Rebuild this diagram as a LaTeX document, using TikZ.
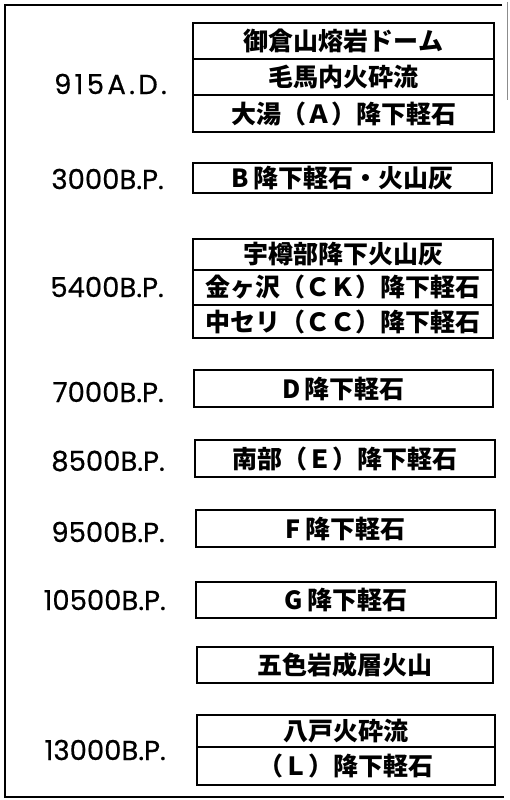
\documentclass[tikz,border=0pt]{standalone}
\usepackage{fontspec}
\newfontfamily\cjk{Noto Sans CJK JP}
\newfontfamily\lab{Poppins}[FakeBold=0.6]
\begin{document}
\begin{tikzpicture}[x=1pt,y=-1pt,
  row/.style={draw, line width=1.5pt, inner sep=0pt, font=\cjk\bfseries\fontsize{25}{25}\selectfont},
  age/.style={anchor=east, inner sep=0pt, font=\lab\fontsize{27.5}{27.5}\selectfont}]
\useasboundingbox (0,0) rectangle (509,800);
% outer frame
\draw[line width=1.2pt] (502,5) -- (5,5) -- (5,797) -- (504,797);
\draw[line width=0.6pt, black!45] (507,2) -- (507,100);
% group 915 A.D.
\node[row, minimum width=301pt, minimum height=36pt] (a1) at (343.5,41) {御倉山熔岩ドーム};
\node[row, minimum width=301pt, minimum height=36pt] (a2) at (343.5,77) {毛馬内火砕流};
\node[row, minimum width=301pt, minimum height=37pt] (a3) at (343.5,113.5) {大湯（Ａ）降下軽石};
\node[age] (t1) at (167,84) {\addfontfeature{LetterSpace=12}915A.D.};
% 3000 B.P.
\node[row, minimum width=299pt, minimum height=30pt] (b1) at (342.5,178) {B\,降下軽石・火山灰};
\node[age] (t2) at (164,179) {3000B.P.};
% 5400 B.P.
\node[row, minimum width=300pt, minimum height=31pt] (c1) at (343,254.5) {宇樽部降下火山灰};
\node[row, minimum width=300pt, minimum height=35pt] (c2) at (343,287.5) {金ヶ沢（ＣＫ）降下軽石};
\node[row, minimum width=300pt, minimum height=33pt] (c3) at (343,321.5) {中セリ（ＣＣ）降下軽石};
\node[age] (t3) at (164,287) {5400B.P.};
% 7000 B.P.
\node[row, minimum width=299pt, minimum height=37pt] (d1) at (343.5,388.5) {D\,降下軽石};
\node[age] (t4) at (164,392) {7000B.P.};
% 8500 B.P.
\node[row, minimum width=300pt, minimum height=37pt] (e1) at (345,458.5) {南部（Ｅ）降下軽石};
\node[age] (t5) at (165,461) {8500B.P.};
% 9500 B.P.
\node[row, minimum width=299pt, minimum height=37pt] (f1) at (345.5,528.5) {F\,降下軽石};
\node[age] (t6) at (165,532) {9500B.P.};
% 10500 B.P.
\node[row, minimum width=300pt, minimum height=36pt] (g1) at (346,600) {G\,降下軽石};
\node[age] (t7) at (166,600) {10500B.P.};
% Goshiki
\node[row, minimum width=296pt, minimum height=36pt] (h1) at (345,665) {五色岩成層火山};
% 13000 B.P.
\node[row, minimum width=298pt, minimum height=32pt] (i1) at (346,731) {八戸火砕流};
\node[row, minimum width=298pt, minimum height=38pt] (i2) at (346,766) {（Ｌ）降下軽石};
\node[age] (t8) at (166,750) {13000B.P.};
\end{tikzpicture}
\end{document}
